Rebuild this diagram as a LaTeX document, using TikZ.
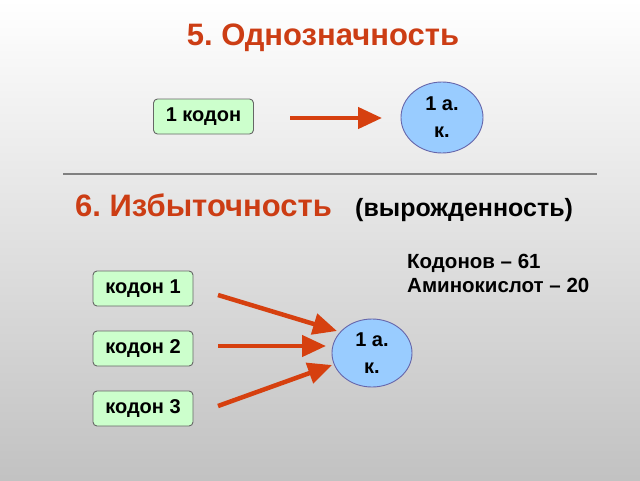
\documentclass[tikz,border=0pt]{standalone}
\usepackage{fontspec}
\setmainfont{Liberation Sans}
\usetikzlibrary{shapes.geometric,arrows.meta}
\definecolor{titlered}{HTML}{CC3D14}
\definecolor{arrred}{HTML}{D6400F}
\definecolor{boxgreen}{HTML}{CCFFCC}
\definecolor{ellblue}{HTML}{99CCFF}
\frenchspacing
\tikzset{
  codonbox/.style={draw=black!60, line width=0.9pt, fill=boxgreen, rounded corners=4pt,
    minimum width=100pt, minimum height=35pt, inner sep=0pt, font=\bfseries\fontsize{20}{22}\selectfont},
  aabox/.style={ellipse, draw=black!55!blue!60, line width=0.9pt, fill=ellblue, inner sep=0pt,
    align=center, font=\bfseries\fontsize{20}{27}\selectfont},
  redarrow/.style={draw=arrred, line width=4.5pt, -{Triangle[length=24pt,width=21pt]}},
  titletext/.style={text=titlered, font=\bfseries\fontsize{31}{34}\selectfont, inner sep=0pt},
}
\begin{document}
\begin{tikzpicture}[x=1pt,y=-1pt]
\shade[top color=white, bottom color=black!24] (0,0) rectangle (640,480);
\useasboundingbox (0,0) rectangle (640,480);

\node[titletext, anchor=base] (t5) at (323,45) {5. Однозначность};

\node[codonbox] (k0) at (203.5,116.5) {1 кодон};
\node[aabox, minimum width=82pt, minimum height=71pt] (a0) at (442,117.5) {1 а.\\к.};
\coordinate (s0) at (290,118);
\coordinate (e0) at (382,118);
\draw[redarrow] (s0) -- (e0);

\coordinate (l1) at (63,174);
\coordinate (l2) at (597,174);
\draw[draw=black!50, line width=1.2pt] (l1) -- (l2);

\node[titletext, anchor=base west] (t6) at (75,216) {6. Избыточность};
\node[anchor=base west, inner sep=0pt, font=\bfseries\fontsize{25}{27}\selectfont] (t6b) at (355,216) {(вырожденность)};

\node[anchor=base west, inner sep=0pt, align=left, font=\bfseries\fontsize{20.5}{23.5}\selectfont] (stat) at (407,292) {Кодонов – 61\\Аминокислот – 20};

\node[codonbox] (k1) at (143,288.5) {кодон 1};
\node[codonbox] (k2) at (143,348.5) {кодон 2};
\node[codonbox] (k3) at (143,408.5) {кодон 3};
\node[aabox, minimum width=80pt, minimum height=68pt] (a1) at (372,353) {1 а.\\к.};

\coordinate (s1) at (218,295);
\coordinate (e1) at (337,331);
\coordinate (s2) at (218,346);
\coordinate (e2) at (326,346);
\coordinate (s3) at (218,406);
\coordinate (e3) at (332,365);
\draw[redarrow] (s1) -- (e1);
\draw[redarrow] (s2) -- (e2);
\draw[redarrow] (s3) -- (e3);
\end{tikzpicture}
\end{document}
